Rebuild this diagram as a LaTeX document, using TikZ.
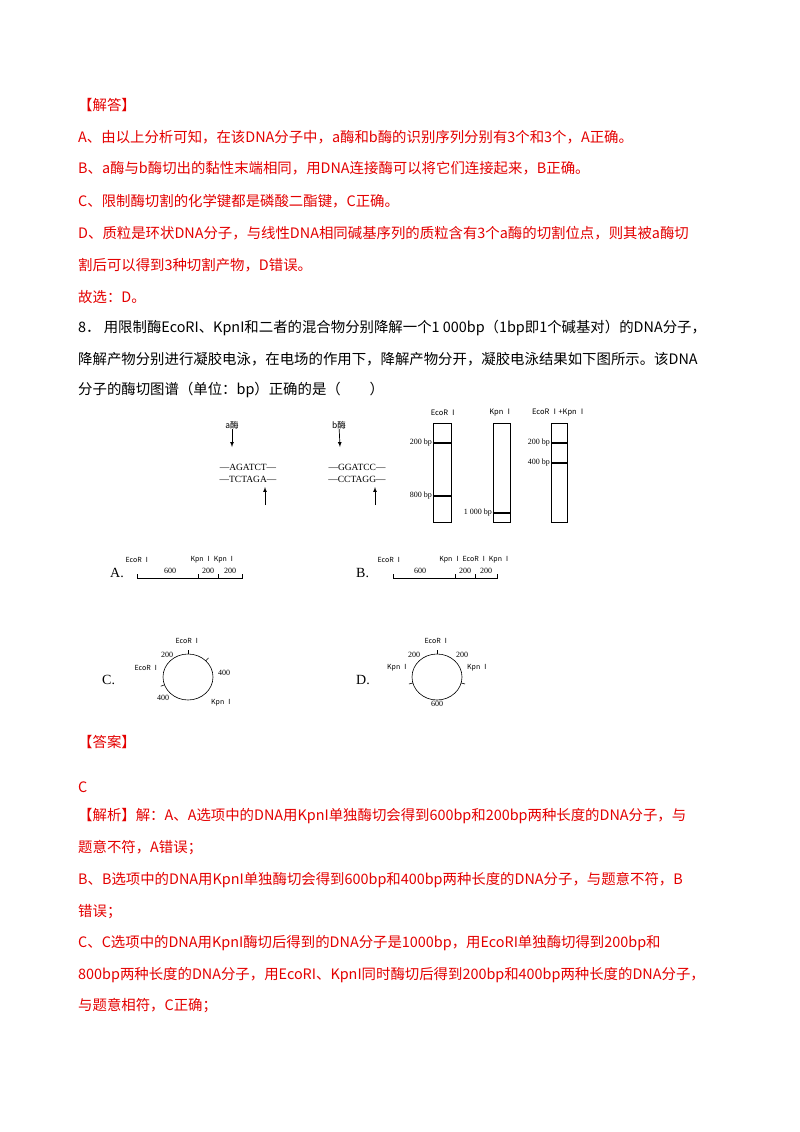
\documentclass[tikz,border=0pt]{standalone}
\usepackage{fontspec}
\usetikzlibrary{calc}
\setmainfont{Liberation Serif}
\newfontfamily\cjk{Noto Sans CJK SC}
\definecolor{ansred}{RGB}{228,0,0}
\begin{document}
\begin{tikzpicture}[x=1pt,y=-1pt,
  para/.style={anchor=west,inner sep=0,font=\cjk\fontsize{14.4}{15}\selectfont},
  rtxt/.style={para,text=ansred},
  sm/.style={inner sep=0,font=\fontsize{8}{9}\selectfont},
  gel/.style={draw,line width=0.6pt},
  band/.style={line width=1.3pt},
  arr/.style={-latex,line width=0.7pt}]
\useasboundingbox[fill=white] (0,0) rectangle (800,1132);
\node[rtxt] (t1) at (78,105) {【解答】};
\node[rtxt] (t2) at (78,137) {A、由以上分析可知，在该DNA分子中，a酶和b酶的识别序列分别有3个和3个，A正确。};
\node[rtxt] (t3) at (78,168) {B、a酶与b酶切出的黏性末端相同，用DNA连接酶可以将它们连接起来，B正确。};
\node[rtxt] (t4) at (78,201) {C、限制酶切割的化学键都是磷酸二酯键，C正确。};
\node[rtxt] (t5) at (78,233) {D、质粒是环状DNA分子，与线性DNA相同碱基序列的质粒含有3个a酶的切割位点，则其被a酶切};
\node[rtxt] (t6) at (78,265) {割后可以得到3种切割产物，D错误。};
\node[rtxt] (t7) at (78,297) {故选：D。};
\node[para] (q1) at (78,328) {8．\ 用限制酶EcoRI、KpnI和二者的混合物分别降解一个1 000bp（1bp即1个碱基对）的DNA分子，};
\node[para] (q2) at (78,359) {降解产物分别进行凝胶电泳，在电场的作用下，降解产物分开，凝胶电泳结果如下图所示。该DNA};
\node[para] (q3) at (78,390) {分子的酶切图谱（单位：bp）正确的是（\qquad ）};
% enzymes
\node[sm,font=\cjk\fontsize{8.5}{9}\selectfont] (ea) at (232,425) {a酶};
\node[sm,font=\cjk\fontsize{8.5}{9}\selectfont] (eb) at (339,425) {b酶};
\coordinate (ea2) at (232,447); \draw[arr] (ea) -- (ea2);
\coordinate (eb2) at (340,447); \draw[arr] (eb) -- (eb2);
\node[sm,font=\fontsize{9.5}{10}\selectfont] (s1) at (248,467) {—AGATCT—};
\node[sm,font=\fontsize{9.5}{10}\selectfont] (s2) at (248,479) {—TCTAGA—};
\node[sm,font=\fontsize{9.5}{10}\selectfont] (s3) at (357,467) {—GGATCC—};
\node[sm,font=\fontsize{9.5}{10}\selectfont] (s4) at (357,479) {—CCTAGG—};
\coordinate (u1) at (265,505); \coordinate (u1e) at (265,487); \draw[arr] (u1) -- (u1e);
\coordinate (u2) at (375,505); \coordinate (u2e) at (375,487); \draw[arr] (u2) -- (u2e);
% gels
\node[gel,minimum width=18,minimum height=99,inner sep=0] (g1) at (442,472.5) {};
\node[gel,minimum width=17,minimum height=99,inner sep=0] (g2) at (501.5,472.5) {};
\node[gel,minimum width=16,minimum height=99,inner sep=0] (g3) at (559.5,472.5) {};
\node[sm,font=\cjk\fontsize{7.5}{8}\selectfont] (l1) at (444,413) {EcoR Ⅰ};
\node[sm,font=\cjk\fontsize{7.5}{8}\selectfont] (l2) at (501,413) {Kpn Ⅰ};
\node[sm,font=\cjk\fontsize{7.5}{8}\selectfont] (l3) at (559,413) {EcoR Ⅰ+Kpn Ⅰ};
\draw[band] (g1.west |- 0,443) -- (g1.east |- 0,443);
\draw[band] (g1.west |- 0,496) -- (g1.east |- 0,496);
\draw[band] (g2.west |- 0,513) -- (g2.east |- 0,513);
\draw[band] (g3.west |- 0,443) -- (g3.east |- 0,443);
\draw[band] (g3.west |- 0,463) -- (g3.east |- 0,463);
\node[sm,anchor=east] (b1) at (432,443) {200 bp};
\node[sm,anchor=east] (b2) at (432,496) {800 bp};
\node[sm,anchor=east] (b3) at (492,513) {1 000 bp};
\node[sm,anchor=east] (b4) at (550,443) {200 bp};
\node[sm,anchor=east] (b5) at (550,463) {400 bp};
% options A, B
\node[para,font=\fontsize{14}{15}\selectfont] (oA) at (110,573) {A.};
\node[para,font=\fontsize{14}{15}\selectfont] (oB) at (356,573) {B.};
\draw[line width=0.5pt] (137,574) -- (137,578) -- (242,578) -- (242,574) (198,574) -- (198,578) (218,574) -- (218,578);
\node[sm] (a1) at (170,571) {600}; \node[sm] (a2) at (208,571) {200}; \node[sm] (a3) at (230,571) {200};
\node[sm,font=\cjk\fontsize{7}{8}\selectfont] (a4) at (138,560) {EcoR Ⅰ};
\node[sm,font=\cjk\fontsize{7}{8}\selectfont] (a5) at (213,560) {Kpn Ⅰ Kpn Ⅰ};
\draw[line width=0.5pt] (393,574) -- (393,578) -- (497,578) -- (497,574) (455,574) -- (455,578) (475,574) -- (475,578);
\node[sm] (b6) at (420,571) {600}; \node[sm] (b7) at (465,571) {200}; \node[sm] (b8) at (486,571) {200};
\node[sm,font=\cjk\fontsize{7}{8}\selectfont] (b9) at (390,560) {EcoR Ⅰ};
\node[sm,font=\cjk\fontsize{7}{8}\selectfont] (b10) at (475,560) {Kpn Ⅰ EcoR Ⅰ Kpn Ⅰ};
% options C, D
\node[para,font=\fontsize{14}{15}\selectfont] (oC) at (102,680) {C.};
\node[para,font=\fontsize{14}{15}\selectfont] (oD) at (356,680) {D.};
\draw[line width=0.6pt] (188,677) ellipse (25 and 23);
\draw[line width=0.6pt] (188,654) -- (188,650);
\draw[line width=0.6pt] ($(188,677)+(160:25 and 23)$) -- ($(188,677)+(160:29 and 27)$);
\draw[line width=0.6pt] ($(188,677)+(-45:25 and 23)$) -- ($(188,677)+(-45:29 and 27)$);
\node[sm,font=\cjk\fontsize{7}{8}\selectfont] (c1) at (188,641) {EcoR Ⅰ};
\node[sm] (c2) at (167,655) {200};
\node[sm,font=\cjk\fontsize{7}{8}\selectfont] (c3) at (147,668) {EcoR Ⅰ};
\node[sm] (c4) at (224,673) {400};
\node[sm,font=\cjk\fontsize{7}{8}\selectfont] (c5) at (222,703) {Kpn Ⅰ};
\node[sm] (c6) at (163,698) {400};
\draw[line width=0.6pt] (437,677) ellipse (25 and 23);
\draw[line width=0.6pt] (437,654) -- (437,650);
\draw[line width=0.6pt] ($(437,677)+(165:25 and 23)$) -- ($(437,677)+(165:29 and 27)$);
\draw[line width=0.6pt] ($(437,677)+(15:25 and 23)$) -- ($(437,677)+(15:29 and 27)$);
\node[sm,font=\cjk\fontsize{7}{8}\selectfont] (d1) at (437,641) {EcoR Ⅰ};
\node[sm] (d2) at (414,655) {200};
\node[sm] (d3) at (462,655) {200};
\node[sm,font=\cjk\fontsize{7}{8}\selectfont] (d4) at (398,668) {Kpn Ⅰ};
\node[sm,font=\cjk\fontsize{7}{8}\selectfont] (d5) at (478,668) {Kpn Ⅰ};
\node[sm] (d6) at (437,704) {600};
% answer
\node[rtxt] (r1) at (78,742) {【答案】};
\node[rtxt] (r2) at (78,787) {C};
\node[rtxt] (r3) at (78,816) {【解析】解：A、A选项中的DNA用KpnI单独酶切会得到600bp和200bp两种长度的DNA分子，与};
\node[rtxt] (r4) at (78,848) {题意不符，A错误；};
\node[rtxt] (r5) at (78,880) {B、B选项中的DNA用KpnI单独酶切会得到600bp和400bp两种长度的DNA分子，与题意不符，B};
\node[rtxt] (r6) at (78,912) {错误；};
\node[rtxt] (r7) at (78,943) {C、C选项中的DNA用KpnI酶切后得到的DNA分子是1000bp，用EcoRI单独酶切得到200bp和};
\node[rtxt] (r8) at (78,975) {800bp两种长度的DNA分子，用EcoRI、KpnI同时酶切后得到200bp和400bp两种长度的DNA分子，};
\node[rtxt] (r9) at (78,1006) {与题意相符，C正确；};
\end{tikzpicture}
\end{document}
